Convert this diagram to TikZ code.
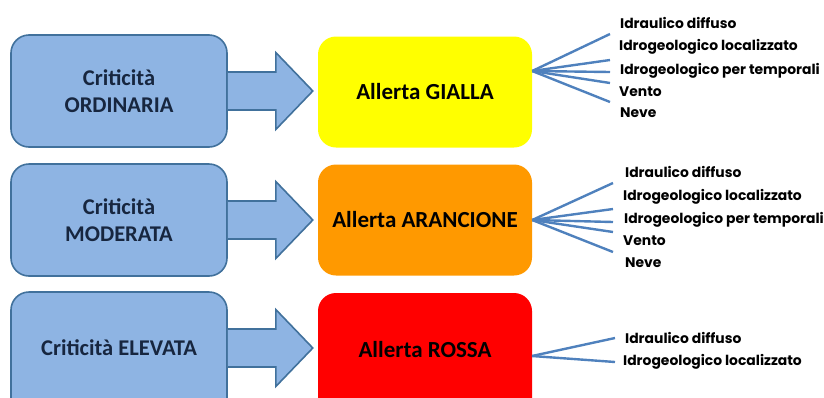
\documentclass[tikz,border=0pt]{standalone}
\usepackage{fontspec}
\setmainfont{Carlito}
\newfontfamily\listfont{Poppins}
\usetikzlibrary{calc}
\definecolor{boxblue}{HTML}{8EB4E3}
\definecolor{boxedge}{HTML}{41719C}
\definecolor{navy}{HTML}{17263F}
\definecolor{fanblue}{HTML}{4F81BD}
\definecolor{alertyellow}{HTML}{FFFF00}
\definecolor{alertorange}{HTML}{FF9900}
\definecolor{alertred}{HTML}{FF0000}
\begin{document}
\begin{tikzpicture}[x=1pt,y=-1pt,
  critbox/.style={draw=boxedge,line width=1.6pt,fill=boxblue,rounded corners=18pt,
    minimum width=216pt,minimum height=112pt,inner sep=0pt,align=center,
    text=navy,font=\fontsize{22.5}{27}\selectfont\bfseries},
  alertbox/.style={rounded corners=18pt,minimum width=214pt,minimum height=111pt,
    inner sep=0pt,align=center,text=black,font=\fontsize{23}{27}\selectfont\bfseries},
  bigarrow/.style={draw=boxedge,line width=1.6pt,fill=boxblue,line join=miter},
  fan/.style={draw=fanblue,line width=2.4pt},
  item/.style={anchor=west,inner sep=0pt,text=black,font=\listfont\fontsize{13.9}{15}\selectfont\bfseries}]
\useasboundingbox (0,0) rectangle (824,397);
\clip (0,0) rectangle (824,397);

% left boxes
\node[critbox] (c1) at (119,91) {Criticità\\ORDINARIA};
\node[critbox] (c2) at (119,220) {Criticità\\MODERATA};
\draw[draw=boxedge,line width=1.6pt,fill=boxblue,rounded corners=18pt] (11,292) rectangle (227,420);
\node[critbox,draw=none,fill=none] (c3) at (119,348) {Criticità ELEVATA};

% alert boxes
\node[alertbox,fill=alertyellow] (a1) at (425,92) {Allerta GIALLA};
\node[alertbox,fill=alertorange] (a2) at (425,220) {Allerta ARANCIONE};
\fill[alertred,rounded corners=18pt] (318,293) rectangle (532,420);
\node[alertbox] (a3) at (425,350) {Allerta ROSSA};
\coordinate (a3e) at (532,356);

% block arrows
\foreach \c in {c1,c2,c3}{
  \draw[bigarrow] ([shift={(0,-19)}]\c.east) -- ++(48,0) -- ++(0,-19.5)
    -- ++(37,38.5) -- ++(-37,38.5) -- ++(0,-19.5) -- ++(-48,0);
}

% fan for yellow
\coordinate (y1) at (610,34);
\coordinate (y2) at (610,60);
\coordinate (y3) at (610,72);
\coordinate (y4) at (610,83);
\coordinate (y5) at (610,102);
\foreach \t in {y1,y2,y3,y4,y5} \draw[fan] ([yshift=21pt]a1.east) -- (\t);
\node[item] at (620,23) {Idraulico diffuso};
\node[item] at (619,47) {Idrogeologico localizzato};
\node[item] at (620,71) {Idrogeologico per temporali};
\node[item] at (619,92) {Vento};
\node[item] at (620,113) {Neve};

% fan for orange
\coordinate (o1) at (613,183);
\coordinate (o2) at (613,209);
\coordinate (o3) at (613,222);
\coordinate (o4) at (613,232);
\coordinate (o5) at (613,252);
\foreach \t in {o1,o2,o3,o4,o5} \draw[fan] (a2.east) -- (\t);
\node[item] at (625,172) {Idraulico diffuso};
\node[item] at (623,197) {Idrogeologico localizzato};
\node[item] at (624,220) {Idrogeologico per temporali};
\node[item] at (623,241) {Vento};
\node[item] at (625,263) {Neve};

% fan for red
\coordinate (r1) at (615,338);
\coordinate (r2) at (615,362);
\foreach \t in {r1,r2} \draw[fan] (a3e) -- (\t);
\node[item] at (625,338) {Idraulico diffuso};
\node[item] at (623,362) {Idrogeologico localizzato};
\end{tikzpicture}
\end{document}
